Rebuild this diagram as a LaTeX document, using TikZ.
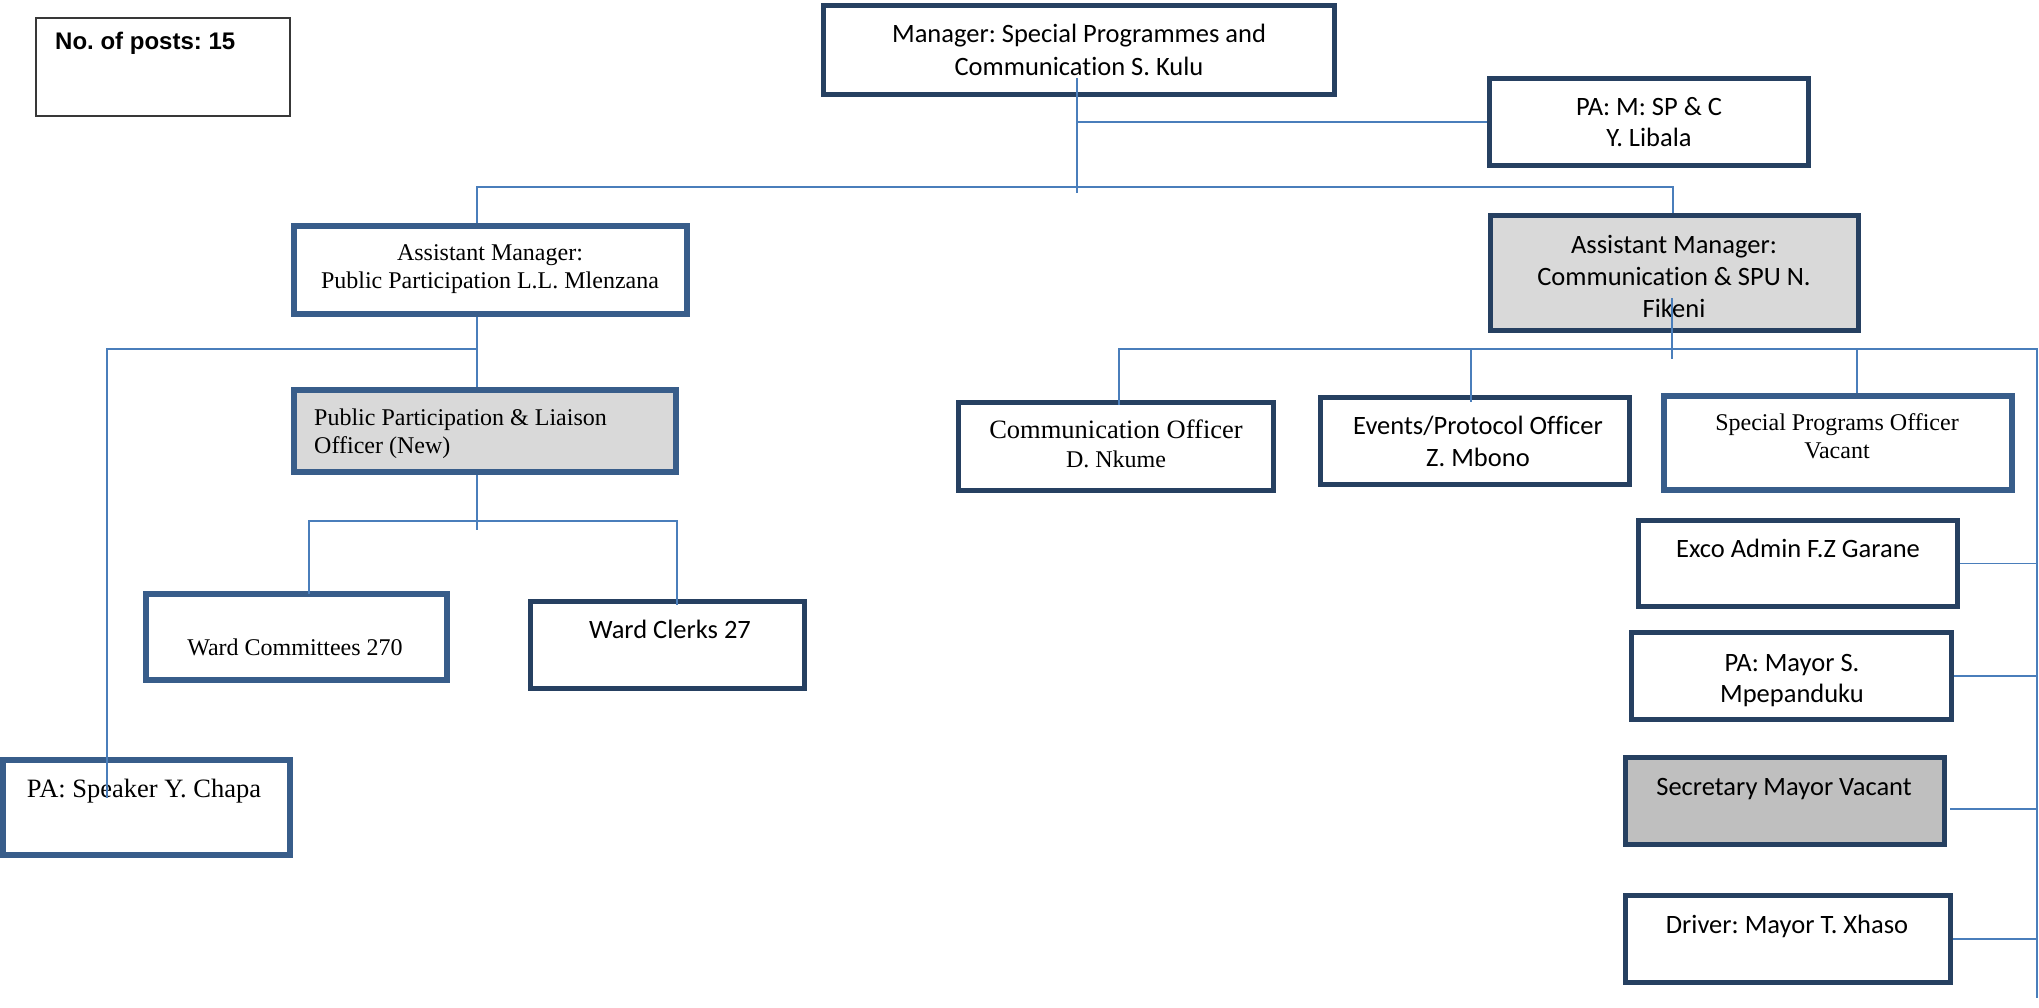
\documentclass[tikz,border=0pt]{standalone}
\usepackage{fontspec}
\setmainfont{Liberation Serif}
\newfontfamily\calibri[RawFeature={-liga;-clig;-calt;-dlig}]{Carlito}
\newfontfamily\arialf{Liberation Sans}
\usetikzlibrary{calc}
\frenchspacing
\definecolor{navy}{RGB}{38,64,97}
\definecolor{boxblue}{RGB}{56,93,138}
\definecolor{connblue}{RGB}{74,126,187}
\definecolor{lightfill}{RGB}{217,217,217}
\definecolor{midfill}{RGB}{191,191,191}
\definecolor{postsline}{RGB}{56,56,56}
\tikzset{
  navybox/.style={draw=navy, line width=5pt, inner sep=0pt, fill=white},
  bluebox/.style={draw=boxblue, line width=6pt, inner sep=0pt, fill=white},
  conn/.style={draw=connblue, line width=1.7pt},
  cal/.style={font=\calibri\fontsize{26.5}{32}\selectfont, inner sep=0pt, anchor=base, align=center},
  tms/.style={font=\fontsize{24}{28}\selectfont, inner sep=0pt, anchor=base, align=center},
}
\begin{document}
\begin{tikzpicture}[x=1pt,y=-1pt]
\useasboundingbox (0,0) rectangle (2039,1008);

% ---- boxes ----
\node[draw=postsline, line width=1.6pt, inner sep=0pt, minimum width=254.5pt, minimum height=98.5pt] (posts) at (163,67) {};
\node[navybox, minimum width=511pt, minimum height=89pt] (mgr) at (1079,50) {};
\node[navybox, minimum width=319pt, minimum height=87pt] (pa) at (1649,122) {};
\node[bluebox, minimum width=393pt, minimum height=88pt] (ampp) at (490.5,270) {};
\node[navybox, fill=lightfill, minimum width=368pt, minimum height=115pt] (amc) at (1674.5,273) {};
\node[bluebox, fill=lightfill, minimum width=382pt, minimum height=82pt] (pplo) at (485,431) {};
\node[bluebox, minimum width=301pt, minimum height=86pt] (wcom) at (296.5,637) {};
\node[navybox, minimum width=274pt, minimum height=87pt] (wclk) at (667.5,645) {};
\node[bluebox, minimum width=287pt, minimum height=95pt] (spk) at (146.5,807.5) {};
\node[navybox, minimum width=315pt, minimum height=88pt] (comm) at (1116,446.5) {};
\node[navybox, minimum width=309pt, minimum height=87pt] (evt) at (1475,441) {};
\node[bluebox, minimum width=348pt, minimum height=94pt] (spo) at (1838,443) {};
\node[navybox, minimum width=319pt, minimum height=86pt] (exco) at (1798,563.5) {};
\node[navybox, minimum width=320pt, minimum height=87pt] (pam) at (1791.5,676) {};
\node[navybox, fill=midfill, minimum width=319pt, minimum height=87pt] (sec) at (1785,801) {};
\node[navybox, minimum width=325pt, minimum height=87pt] (drv) at (1788,939) {};

% ---- texts (anchored at the baseline of the last line) ----
\node[font=\arialf\bfseries\fontsize{24}{28}\selectfont, inner sep=0pt, anchor=base west] (tposts) at (55,50) {No. of posts: 15};
\node[cal, font=\calibri\fontsize{26.5}{33}\selectfont] (tmgr) at (1079,76) {Manager: Special Programmes and\\Communication S. Kulu};
\node[cal, font=\calibri\fontsize{26.5}{31}\selectfont] (tpa) at (1649,147) {PA: M: SP \& C\\Y. Libala};
\node[tms] (tampp) at (490,288) {Assistant Manager:\\Public Participation L.L. Mlenzana};
\node[cal] (tamc) at (1674,317) {Assistant Manager:\\Communication \& SPU N.\\Fikeni};
\node[tms, anchor=base west, align=left] (tpplo) at (314,453) {Public Participation \& Liaison\\Officer (New)};
\node[tms] (twcom) at (295,655) {Ward Committees 270};
\node[cal] (twclk) at (670,638) {Ward Clerks 27};
\node[tms, font=\fontsize{26.5}{30}\selectfont] (tspk) at (144,797) {PA: Speaker Y. Chapa};
\node[tms, font=\fontsize{26.5}{29}\selectfont] (tcomm) at (1116,467) {Communication Officer\\{\fontsize{24}{29}\selectfont D. Nkume}};
\node[cal] (tevt) at (1478,466) {Events/Protocol Officer\\Z. Mbono};
\node[tms] (tspo) at (1837,458) {Special Programs Officer\\Vacant};
\node[cal] (texco) at (1798,557) {Exco Admin F.Z Garane};
\node[cal, font=\calibri\fontsize{26.5}{31}\selectfont] (tpam) at (1792,702) {PA: Mayor S.\\Mpepanduku};
\node[cal] (tsec) at (1784,795) {Secretary Mayor Vacant};
\node[cal] (tdrv) at (1787,933) {Driver: Mayor T. Xhaso};

% ---- connector junctions ----
\coordinate (mgrtrunk) at (1077,78);
\coordinate (mgrfoot) at (1077,193);
\coordinate (lvlL) at (477,187);
\coordinate (lvlR) at (1673,187);
\coordinate (spkL) at (107,349);
\coordinate (spkend) at (107,798);
\coordinate (wl) at (309,521);
\coordinate (wr) at (677,521);
\coordinate (amcstem) at (1672,298);
\coordinate (rl) at (1119,349);
\coordinate (rr) at (2037,349);
\coordinate (rbot) at (2037,998);
\coordinate (cevt) at (1471,349);
\coordinate (cspo) at (1857,349);

% ---- connectors ----
\draw[conn] (mgrtrunk) -- (mgrfoot);
\draw[conn] (mgrtrunk |- pa.west) -- (pa.west);
\draw[conn] (ampp.north -| lvlL) -- (lvlL) -- (lvlR) -- (amc.north -| lvlR);
\draw[conn] (ampp.south -| lvlL) -- (pplo.north -| lvlL);
\draw[conn] (spkL -| lvlL) -- (spkL) -- (spkend);
\draw[conn] (pplo.south -| lvlL) -- ($(wl -| lvlL)+(0,9)$);
\draw[conn] ($(wcom.north -| wl)+(0,3)$) -- (wl) -- (wr) -- ($(wclk.north -| wr)+(0,6)$);
\draw[conn] (amcstem) -- ($(rl -| amcstem)+(0,10)$);
\draw[conn] ($(comm.north -| rl)+(0,5)$) -- (rl) -- (rr) -- (rbot);
\draw[conn] (cevt) -- ($(evt.north -| cevt)+(0,7)$);
\draw[conn] (cspo) -- (spo.north -| cspo);
\draw[conn] (exco.east) -- (exco.east -| rr);
\draw[conn] (pam.east) -- (pam.east -| rr);
\draw[conn] ($(sec.east)+(3,8)$) -- ($(sec.east -| rr)+(0,8)$);
\draw[conn] (drv.east) -- (drv.east -| rr);
\end{tikzpicture}
\end{document}
